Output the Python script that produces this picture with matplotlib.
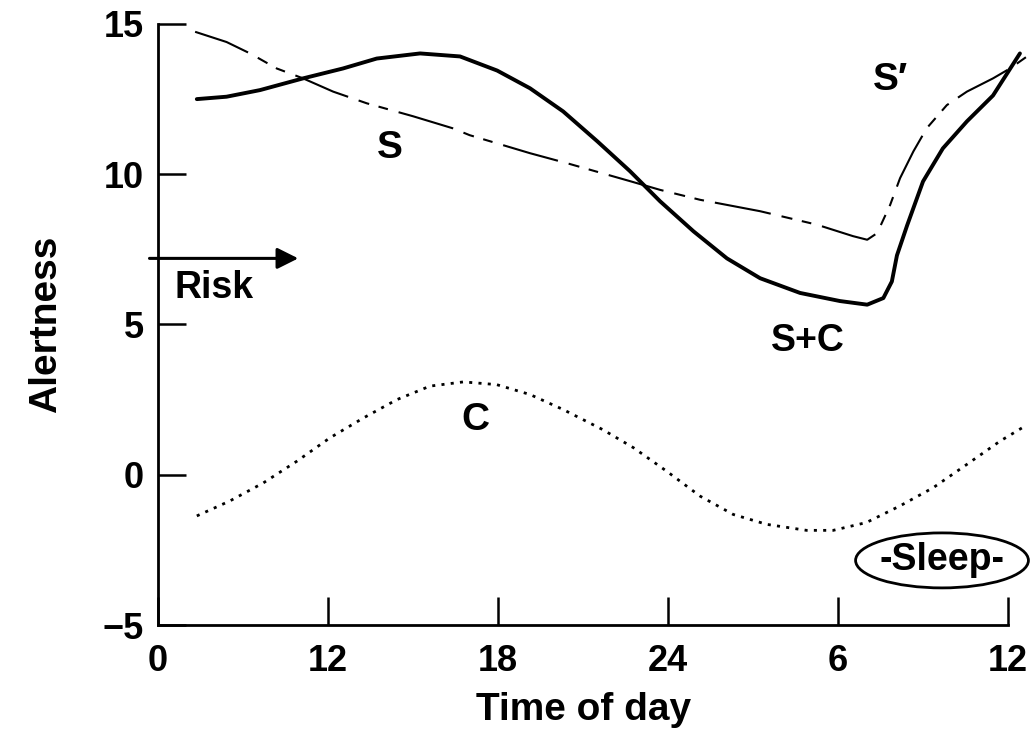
import matplotlib
matplotlib.use("Agg")
import matplotlib.pyplot as plt
from matplotlib.patches import Ellipse

plt.rcParams['font.family'] = ['Liberation Sans', 'DejaVu Sans']
plt.rcParams['lines.scale_dashes'] = False

# x positions in hours (equally spaced 6 h ticks); labels as printed
tick_pos = [6, 12, 18, 24, 30, 36]
tick_labels = ["0", "12", "18", "24", "6", "12"]
y_ticks = [-5, 0, 5, 10, 15]

# S (homeostatic) continuing into S' (recovery after sleep)
s_hours = [7.31, 8.42, 9.25, 10.19, 11.12, 12.18, 13.37, 15.0, 16.4, 17.0, 19.13, 20.5,
           22.66, 23.72, 25.13, 27.25, 29.26, 30.53, 31.03, 31.38, 31.84, 32.19, 32.66,
           33.13, 33.84, 34.55, 35.47, 36.07, 36.67]
s_values = [14.74, 14.4, 14.02, 13.52, 13.19, 12.75, 12.36, 11.93, 11.53, 11.3, 10.7, 10.35,
            9.77, 9.48, 9.15, 8.77, 8.32, 7.94, 7.82, 8.04, 8.98, 9.87, 10.76,
            11.53, 12.3, 12.75, 13.19, 13.52, 13.92]

# S+C (combined alertness)
sc_hours = [7.37, 8.42, 9.6, 11.12, 12.53, 13.72, 15.25, 16.66, 17.97, 19.13, 20.3, 21.5,
            22.66, 23.72, 24.9, 26.08, 27.25, 28.66, 30.07, 31.03, 31.6, 31.9, 32.08,
            32.44, 33.0, 33.7, 34.55, 35.47, 36.42]
sc_values = [12.5, 12.58, 12.8, 13.19, 13.52, 13.85, 14.02, 13.92, 13.45, 12.86, 12.09, 11.1,
             10.1, 9.1, 8.1, 7.2, 6.54, 6.05, 5.78, 5.66, 5.88, 6.43, 7.3,
             8.3, 9.76, 10.86, 11.76, 12.62, 14.02]

# C (circadian)
c_hours = [7.37, 8.54, 9.72, 10.9, 12.07, 13.25, 14.43, 15.6, 16.78, 17.95, 19.13, 20.3,
           21.7, 22.78, 23.95, 25.13, 26.3, 27.48, 28.89, 29.83, 31.0, 32.18, 33.36,
           34.54, 35.72, 36.6]
c_values = [-1.37, -0.87, -0.27, 0.45, 1.23, 1.89, 2.5, 2.95, 3.09, 3.0, 2.67, 2.17,
            1.5, 0.9, 0.12, -0.71, -1.32, -1.65, -1.85, -1.85, -1.59, -1.04, -0.43,
            0.34, 1.12, 1.62]

fig = plt.figure(figsize=(10.34, 7.38), dpi=100)
ax = fig.add_axes([0.1528, 0.1531, 0.844, 0.8144])

ax.plot(sc_hours, sc_values, color='black', lw=2.8, solid_capstyle='round',
        solid_joinstyle='round', clip_on=False)
ax.plot(s_hours, s_values, color='black', lw=1.5,
        dashes=[41, 8, 8, 7, 7, 8], clip_on=False)
ax.plot(c_hours, c_values, color='black', lw=2.0, dashes=[2.2, 4.5], clip_on=False)

ax.set_xlim(6, 36.8)
ax.set_ylim(-5, 15)
ax.set_xticks(tick_pos)
ax.set_xticklabels(tick_labels)
ax.set_yticks(y_ticks)
ax.set_yticklabels([str(v).replace('-', '\u2212') for v in y_ticks])

for side in ['top', 'right']:
    ax.spines[side].set_visible(False)
ax.spines['left'].set_bounds(-5, 15)
ax.spines['bottom'].set_bounds(6, 36)
for side in ['left', 'bottom']:
    ax.spines[side].set_linewidth(2)

ax.tick_params(axis='both', direction='in', length=20, width=1.8, labelsize=26)
ax.tick_params(axis='x', pad=14)
ax.tick_params(axis='y', pad=10)
for lab in ax.get_xticklabels() + ax.get_yticklabels():
    lab.set_fontweight('bold')

ax.set_xlabel("Time of day", fontsize=28, fontweight='bold')
ax.set_ylabel("Alertness", fontsize=28, fontweight='bold')
ax.xaxis.set_label_coords(0.488, -0.112)
ax.yaxis.set_label_coords(-0.108, 0.5)

# Risk arrow
ax.annotate("", xy=(10.95, 7.2), xytext=(5.7, 7.2),
            arrowprops=dict(arrowstyle='-|>', color='black', lw=2.2,
                            mutation_scale=32, shrinkA=0, shrinkB=0),
            annotation_clip=False)
ax.text(6.6, 6.2, "Risk", fontsize=27, fontweight='bold', ha='left', va='center')

# curve labels
ax.text(14.19, 10.86, "S", fontsize=28, fontweight='bold', ha='center', va='center')
ax.text(31.84, 13.12, "S\u2032", fontsize=28, fontweight='bold', ha='center', va='center')
ax.text(28.94, 4.45, "S+C", fontsize=27, fontweight='bold', ha='center', va='center')
ax.text(17.19, 1.83, "C", fontsize=28, fontweight='bold', ha='center', va='center')

# Sleep label in an ellipse
ell = Ellipse((33.67, -2.85), width=6.1, height=1.83, facecolor='white',
              edgecolor='black', lw=2, clip_on=False, zorder=3)
ax.add_patch(ell)
ax.text(33.67, -2.85, "-Sleep-", fontsize=27, fontweight='bold', ha='center',
        va='center', zorder=4)

fig.savefig("out.png", dpi=100)
